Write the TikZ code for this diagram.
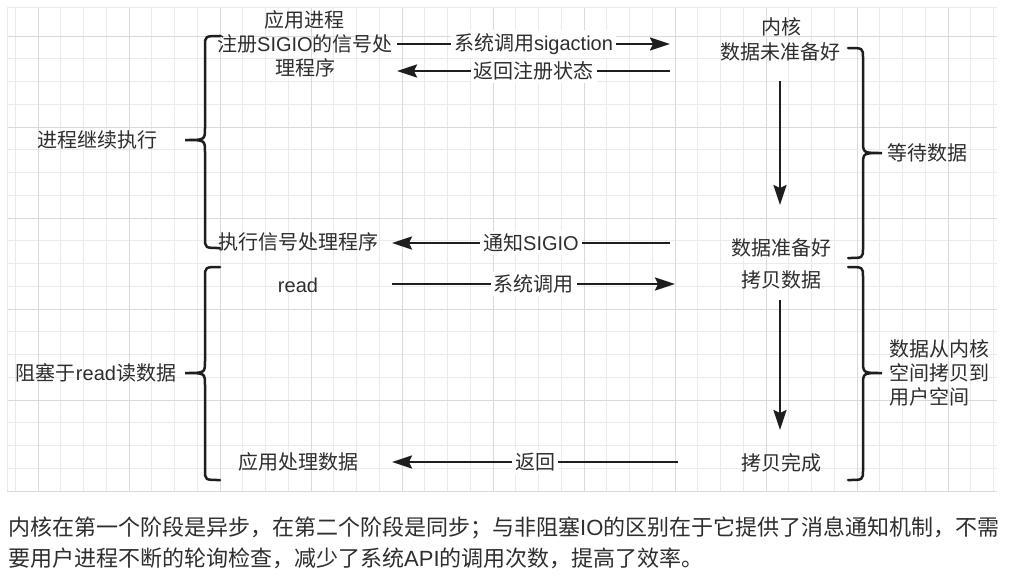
\documentclass[tikz,border=0pt]{standalone}
\usepackage{fontspec}
\setmainfont{Noto Sans CJK SC}
\newfontfamily\latf{Liberation Sans}
\usetikzlibrary{arrows.meta}
\definecolor{txt}{HTML}{2E2E2E}
\definecolor{ln}{HTML}{1E1E1E}
\definecolor{gridminor}{HTML}{EBEBEB}
\definecolor{gridmajor}{HTML}{DADADA}
\newcommand\la[1]{{\latf #1}}
% #1 end x, #2 spine x, #3 tip x, #4 top y, #5 mid y, #6 bottom y
\newcommand\drawbrace[6]{%
  \draw[bracestyle] (#1,#4) .. controls (#2,#4) .. (#2,#4+10) -- (#2,#5-12)
    .. controls (#2,#5) .. (#3,#5) .. controls (#2,#5) .. (#2,#5+12)
    -- (#2,#6-10) .. controls (#2,#6) .. (#1,#6);}
\tikzset{
  lbl/.style={text=txt, font=\fontsize{20}{24}\selectfont, inner sep=1pt, align=center},
  elbl/.style={lbl, fill=white, inner sep=3pt},
  captext/.style={text=txt, font=\fontsize{22}{30}\selectfont, inner sep=0pt, anchor=west},
  arr/.style={draw=ln, line width=2.5pt, -{Stealth[length=20pt,width=13pt,inset=3pt]}},
  bracestyle/.style={draw=ln, line width=2.5pt, line cap=round},
}
\begin{document}
\begin{tikzpicture}[x=1pt,y=-1pt]
\useasboundingbox (0,0) rectangle (1033,576);
\fill[white] (0,0) rectangle (1033,576);
% grid
\foreach \i in {-1,...,42} \draw[gridminor, line width=1pt] ({38+22.75*\i},7) -- ({38+22.75*\i},491);
\foreach \j in {0,...,20} \draw[gridminor, line width=1pt] (7,{36+22.75*\j}) -- (997,{36+22.75*\j});
\foreach \i in {0,...,10} \draw[gridmajor, line width=1pt] ({38+91*\i},7) -- ({38+91*\i},491);
\foreach \j in {0,...,5} \draw[gridmajor, line width=1pt] (7,{36+91*\j}) -- (997,{36+91*\j});
\draw[gridminor, line width=1pt] (7,491) -- (7,7) -- (997,7);

% application side
\node[lbl] (p0) at (304,20) {应用进程};
\node[lbl] (p1) at (305,56) {注册\la{SIGIO}的信号处\\理程序};
\node[lbl] (p2) at (298,242) {执行信号处理程序};
\node[lbl] (p3) at (298,285) {\la{read}};
\node[lbl] (p4) at (298,462) {应用处理数据};

% kernel side
\node[lbl] (k0) at (781,27) {内核};
\node[lbl] (k1) at (780,52) {数据未准备好};
\node[lbl] (k2) at (781,248) {数据准备好};
\node[lbl] (k3) at (781,280) {拷贝数据};
\node[lbl] (k4) at (781,463) {拷贝完成};

% brace labels
\node[lbl] (L1) at (97,140) {进程继续执行};
\node[lbl] (L2) at (96,373) {阻塞于\la{read}读数据};
\node[lbl] (R1) at (927,153) {等待数据};
\node[lbl, align=left, anchor=west] (R2) at (888,373) {数据从内核\\空间拷贝到\\用户空间};

% braces
\drawbrace{220}{205}{185}{36}{140}{248}
\drawbrace{220}{205}{185}{267}{373}{480}
\drawbrace{848}{863}{882}{48}{153}{258}
\drawbrace{848}{863}{882}{267}{373}{480}

% arrow end points
\coordinate (a1s) at (397,44);  \coordinate (a1e) at (670,44);
\coordinate (a2s) at (670,71);  \coordinate (a2e) at (397,71);
\coordinate (a3s) at (670,243); \coordinate (a3e) at (392,243);
\coordinate (a4s) at (392,284); \coordinate (a4e) at (675,284);
\coordinate (a5s) at (678,462); \coordinate (a5e) at (392,462);
\coordinate (v1s) at (780,81);  \coordinate (v1e) at (780,205);
\coordinate (v2s) at (780,300); \coordinate (v2e) at (780,430);

\draw[arr] (a1s) -- node[elbl] (t1) {系统调用\la{sigaction}} (a1e);
\draw[arr] (a2s) -- node[elbl] (t2) {返回注册状态} (a2e);
\draw[arr] (a3s) -- node[elbl] (t3) {通知\la{SIGIO}} (a3e);
\draw[arr] (a4s) -- node[elbl] (t4) {系统调用} (a4e);
\draw[arr] (a5s) -- node[elbl] (t5) {返回} (a5e);
\draw[arr] (v1s) -- (v1e);
\draw[arr] (v2s) -- (v2e);

% caption
\node[captext] (c1) at (8,528) {内核在第一个阶段是异步，在第二个阶段是同步；与非阻塞\la{IO}的区别在于它提供了消息通知机制，不需};
\node[captext] (c2) at (8,558) {要用户进程不断的轮询检查，减少了系统\la{API}的调用次数，提高了效率。};
\end{tikzpicture}
\end{document}
